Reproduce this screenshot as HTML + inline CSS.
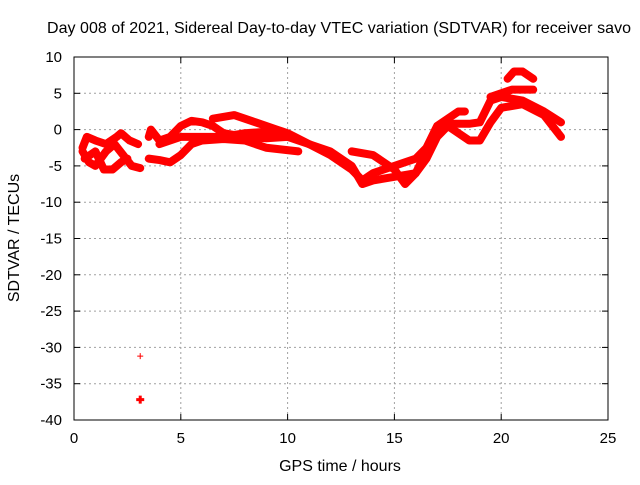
<!DOCTYPE html>
<html><head><meta charset="utf-8"><style>
body{margin:0;background:#fff}
text{font-family:"Liberation Sans",sans-serif;font-size:15px;fill:#000}
.big{font-size:16px}
</style></head><body>
<svg id="c" width="640" height="480">
<text class="big" x="339" y="33" text-anchor="middle" textLength="584">Day 008 of 2021, Sidereal Day-to-day VTEC variation (SDTVAR) for receiver savo</text>
<text class="big" x="340" y="471" text-anchor="middle">GPS time / hours</text>
<text class="big" transform="translate(19,238) rotate(-90)" text-anchor="middle">SDTVAR / TECUs</text>
<g id="grid"></g><g id="marks"></g>
<rect x="74" y="57" width="534" height="363" fill="none" stroke="#000"/>
</svg>
<script>
const xTicks=[0,5,10,15,20,25];
const yTicks=[10,5,0,-5,-10,-15,-20,-25,-30,-35,-40];
const track1=[[0.4,-2.5],[0.6,-1],[1,-1.5],[1.5,-2],[2,-1],[2.2,-0.5],[2.6,-1.5],[3,-2]];
const track2=[[0.4,-3],[0.7,-4.5],[1,-5],[1.5,-3],[1.9,-2],[2.3,-3.5],[2.7,-5],[3.1,-5.3]];
const track3=[[0.5,-4],[1,-3],[1.4,-5.5],[1.8,-5.5],[2.2,-4.5],[2.5,-4]];
const track4=[[3.5,-1],[3.6,0],[4,-1.5],[4.5,-1],[5,0.5],[5.5,1.2],[6,1],[6.5,0.5],[7,-0.5],[8,-1],[9,-1.2],[10,-1]];
const track5=[[3.5,-4],[4,-4.2],[4.5,-4.5],[5,-3.5],[5.5,-2],[6,-1.5],[7,-1.3],[8,-1.5],[9,-2.5],[10.5,-3]];
const track6=[[4,-2],[5,-1],[6,-1],[7,-1],[8,-0.5],[9,-0.3],[10,-1],[11,-2],[12,-3.5],[13,-5.5],[13.5,-7],[14,-6],[15,-5],[16,-4],[16.5,-2.5],[17,0.5],[17.5,1.5],[18,2.5],[18.3,2.5]];
const track7=[[6.5,1.5],[7.5,2],[8.5,1],[9.5,0],[10,-0.5],[11,-2],[12,-3],[13,-5],[13.5,-7.5],[14,-7],[15,-6.5],[16,-6],[16.5,-3],[17,0],[17.5,0.8],[18.5,0.8],[19,1],[19.5,4],[20,4.5],[21,4],[22,2.5],[22.8,1]];
const track8=[[13,-3],[14,-3.5],[15,-5.5],[15.5,-7.5],[16,-6],[16.5,-4],[17,-1],[17.5,0.5],[18.5,-1.5],[19,-1.5],[19.5,1],[20,3],[21,3.5],[22,2],[22.8,-1]];
const track9=[[20.3,7],[20.6,8],[21,8],[21.5,7]];
const track10=[[19.5,4.5],[20.5,5.5],[21.5,5.5]];
const outliers=[[3.1,-31.2],[3.1,-37.2]];
const tracks=[track1,track2,track3,track4,track5,track6,track7,track8,track9,track10];
const X=v=>74+v*534/25, Y=v=>57+(10-v)*363/50;
const NS="http://www.w3.org/2000/svg";
const g=document.getElementById('grid'), m=document.getElementById('marks');
function mk(tag,a,p){const e=document.createElementNS(NS,tag);for(const k in a)e.setAttribute(k,a[k]);p.appendChild(e);return e;}
xTicks.forEach(t=>{
 if(t>0&&t<25){const l=mk('line',{x1:X(t),x2:X(t),y1:57,y2:420,stroke:'#a0a0a0','stroke-dasharray':'2,3'},g);
 
 }
 mk('line',{x1:X(t),x2:X(t),y1:420,y2:414,stroke:'#000'},g);
 mk('line',{x1:X(t),x2:X(t),y1:57,y2:63,stroke:'#000'},g);
 const tx=mk('text',{x:X(t),y:443,'text-anchor':'middle'},g);tx.textContent=t;
 
 
});
yTicks.forEach(t=>{
 if(t<10&&t>-40){const l=mk('line',{x1:74,x2:608,y1:Y(t),y2:Y(t),stroke:'#a0a0a0','stroke-dasharray':'2,3'},g);
 
 }
 mk('line',{x1:74,x2:80,y1:Y(t),y2:Y(t),stroke:'#000'},g);
 mk('line',{x1:602,x2:608,y1:Y(t),y2:Y(t),stroke:'#000'},g);
 const tx=mk('text',{x:62,y:Y(t)+5,'text-anchor':'end'},g);tx.textContent=t;
 
 
});
tracks.forEach((tr,i)=>{
 const p=mk('polyline',{points:tr.map(d=>X(d[0])+','+Y(d[1])).join(' '),fill:'none',stroke:'#f00','stroke-width':8,'stroke-linejoin':'round','stroke-linecap':'round'},m);
 
 
});
outliers.forEach((d,i)=>{
 const w=i==0?3:4;
 const p=mk('path',{d:`M${X(d[0])-w},${Y(d[1])}h${2*w}M${X(d[0])},${Y(d[1])-w}v${2*w}`,stroke:'#f00','stroke-width':i==0?1:3},m);
 
 
});
</script>
</body></html>
